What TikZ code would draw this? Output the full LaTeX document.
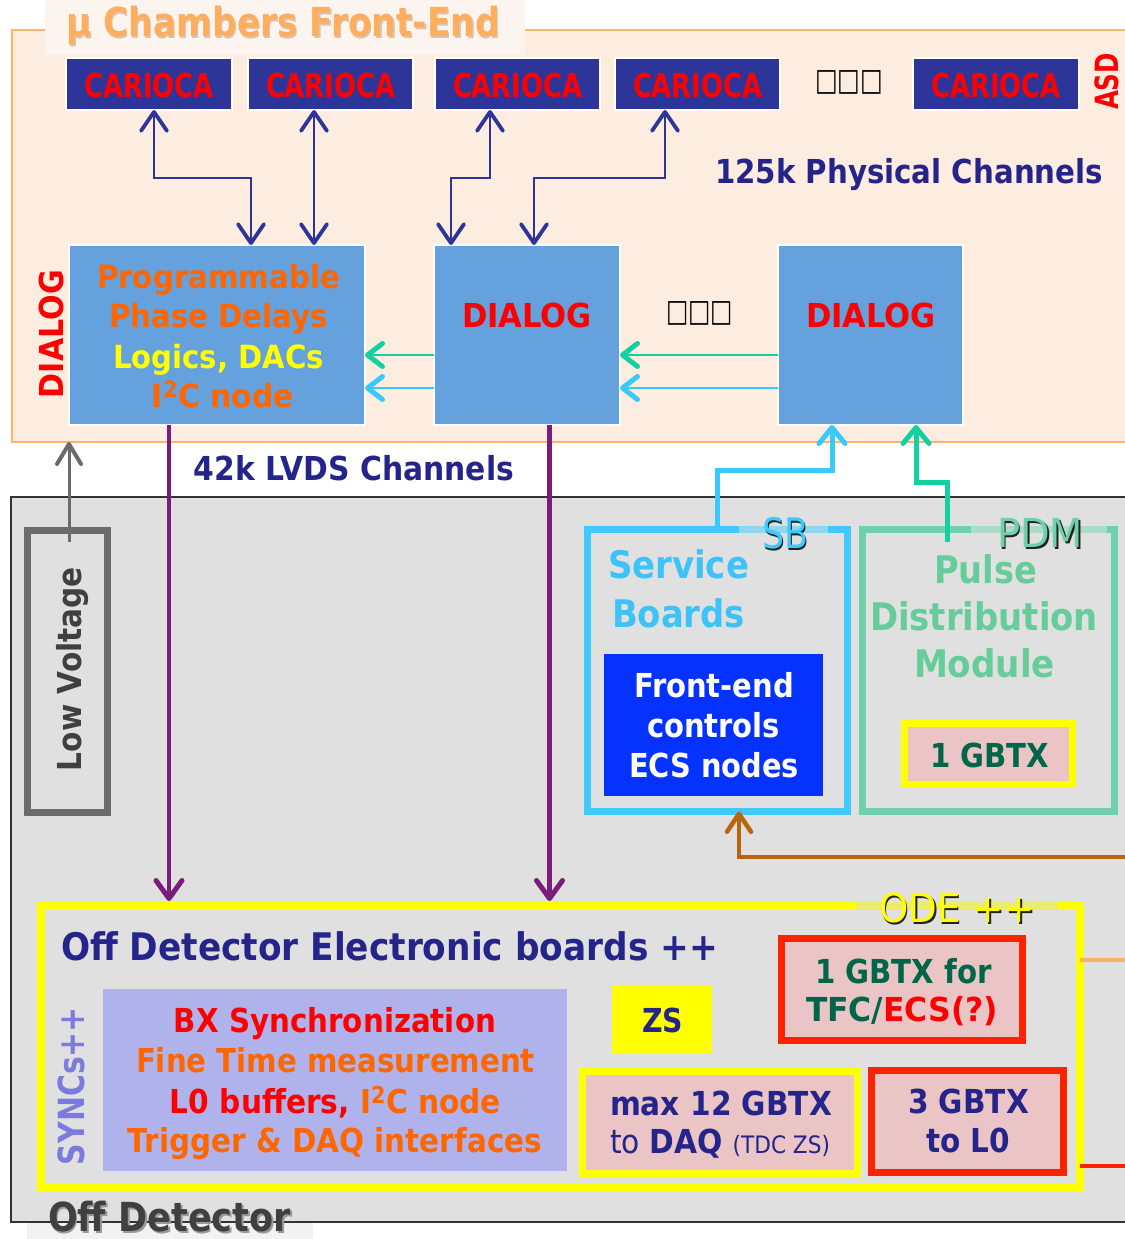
\documentclass[tikz,border=0pt]{standalone}
\usepackage{fontspec}
\setmainfont{DejaVu Sans}
\usepackage{graphicx}
\usetikzlibrary{arrows.meta}

\definecolor{peach}{HTML}{FDEDE1}
\definecolor{peachline}{HTML}{FFB46B}
\definecolor{titlebg}{HTML}{FCF4EE}
\definecolor{titleorange}{HTML}{FFAE5E}
\definecolor{titleshade}{HTML}{D8C4B4}
\definecolor{carfill}{HTML}{2E3599}
\definecolor{navytext}{HTML}{24248A}
\definecolor{hotred}{HTML}{FF0000}
\definecolor{hotorange}{HTML}{FF6600}
\definecolor{brightyellow}{HTML}{FFFF00}
\definecolor{dialogfill}{HTML}{65A1DC}
\definecolor{linkgreen}{HTML}{14CFA0}
\definecolor{linkcyan}{HTML}{38C9FF}
\definecolor{lvdspurple}{HTML}{7B1B7B}
\definecolor{offgrey}{HTML}{E0E0E0}
\definecolor{offline}{HTML}{333333}
\definecolor{lvgrey}{HTML}{6B6B6B}
\definecolor{lvtext}{HTML}{404040}
\definecolor{sbcyan}{HTML}{40C8FF}
\definecolor{sbtext}{HTML}{3DC3F7}
\definecolor{sblight}{HTML}{92D5EF}
\definecolor{pdmline}{HTML}{70D0AC}
\definecolor{pdmtext}{HTML}{66CC9A}
\definecolor{pdmlight}{HTML}{A9DDC7}
\definecolor{fecblue}{HTML}{0532FF}
\definecolor{gbpink}{HTML}{EBC5C5}
\definecolor{dkgreen}{HTML}{00664A}
\definecolor{boxred}{HTML}{FF2200}
\definecolor{odelight}{HTML}{ECEC6C}
\definecolor{lavender}{HTML}{B0B3EB}
\definecolor{syncsblue}{HTML}{7B7BDF}
\definecolor{ecsbrown}{HTML}{B8650F}
\definecolor{tfcorange}{HTML}{FFB266}
\definecolor{odbg}{HTML}{F2F2F2}
\definecolor{shadowdark}{HTML}{222222}
\definecolor{shadowgrey}{HTML}{9A9A9A}

% set a text line to an exact width, keeping its height
\newcommand\fw[2]{\resizebox{#1pt}{\height}{#2}}
% text with a drop shadow: #1 shadow colour, #2 offset, #3 text
\newcommand\shadowed[3]{\makebox[0pt][l]{\kern#2\raisebox{-#2}{\textcolor{#1}{#3}}}#3}

\begin{document}
\begin{tikzpicture}[x=1pt,y=-1pt,
  every node/.style={inner sep=0pt,outer sep=0pt},
  fb/.style={font=\fontsize{#1}{#1}\selectfont\bfseries},
  fr/.style={font=\fontsize{#1}{#1}\selectfont},
  lbl/.style={anchor=base},
  carbox/.style={rectangle,fill=carfill,draw=white,line width=1.5pt,minimum height=52pt},
  dlgbox/.style={rectangle,fill=dialogfill,draw=white,line width=1.5pt,minimum height=180pt},
  pinkbox/.style={rectangle,fill=gbpink,line width=7pt},
  navarr/.style={draw=carfill,line width=2pt,>={Straight Barb[length=19pt,width=26pt,line width=1.8pt 1,round]}},
  hlink/.style={line width=2.5pt,>={Straight Barb[length=15pt,width=23pt,line width=2.5pt 1,round]}},
  lvdsarr/.style={draw=lvdspurple,line width=4.5pt,>={Straight Barb[length=18pt,width=26pt,line width=0.5pt 1,round]}},
  uplink/.style={line width=5pt,>={Straight Barb[length=16pt,width=26pt,line width=0pt 1,round]}},
  ecsarr/.style={draw=ecsbrown,line width=3.5pt,>={Straight Barb[length=18pt,width=24pt,line width=1pt 1,round]}},
  lvarr/.style={draw=lvgrey,line width=3pt,>={Straight Barb[length=20pt,width=24pt,line width=1pt 1,round]}}
]
\useasboundingbox (0,0) rectangle (1124,1239);

% ---------------- front-end area ----------------
\node[rectangle,draw=peachline,fill=peach,line width=1.5pt,minimum width=1128pt,minimum height=412pt] (fe) at (576,236) {};
\fill[titlebg] (45,0) rectangle (525,55);
\node[lbl,fb=40,text=titleorange] (ttl) at (283,37) {\fw{434}{\shadowed{titleshade}{1.5pt}{μ Chambers Front-End}}};

% ---------------- off-detector area ----------------
\node[rectangle,draw=offline,fill=offgrey,line width=1.5pt,minimum width=1129pt,minimum height=725pt] (od) at (575.5,859.5) {};
\fill[odbg] (27,1223) rectangle (313,1239);
\node[lbl,fb=40,text=lvtext] (odl) at (169.5,1231) {\fw{243}{\shadowed{shadowgrey}{2pt}{Off Detector}}};

% ---------------- ASD chips ----------------
\node[carbox,minimum width=166pt] (car1) at (149,84) {};
\node[carbox,minimum width=165pt] (car2) at (330.5,84) {};
\node[carbox,minimum width=165pt] (car3) at (517.5,84) {};
\node[carbox,minimum width=165pt] (car4) at (697.5,84) {};
\node[carbox,minimum width=166pt] (car5) at (996,84) {};
\node[lbl,fb=33,text=hotred] (car1t) at (149,97) {\fw{129}{CARIOCA}};
\node[lbl,fb=33,text=hotred] (car2t) at (330.5,97) {\fw{129}{CARIOCA}};
\node[lbl,fb=33,text=hotred] (car3t) at (517.5,97) {\fw{129}{CARIOCA}};
\node[lbl,fb=33,text=hotred] (car4t) at (697.5,97) {\fw{129}{CARIOCA}};
\node[lbl,fb=33,text=hotred] (car5t) at (996,97) {\fw{129}{CARIOCA}};
\node[fb=31,text=black] (dots1) at (849,82) {\fw{68}{□□□}};
\node[lbl,fb=32,text=hotred,rotate=90] (asd) at (1118,81.5) {\fw{57}{ASD}};
\node[lbl,fb=33,text=navytext] (phys) at (909,183) {\fw{388}{125k Physical Channels}};

% ---------------- DIALOG chips ----------------
\node[dlgbox,minimum width=296pt] (dA) at (217,335) {};
\node[dlgbox,minimum width=186pt] (dB) at (527,335) {};
\node[dlgbox,minimum width=185pt] (dC) at (870.5,335) {};
\node[lbl,fb=32,text=hotorange] (dA1) at (218.5,288) {\fw{243}{Programmable}};
\node[lbl,fb=32,text=hotorange] (dA2) at (218.5,327) {\fw{219}{Phase Delays}};
\node[lbl,fb=32,text=brightyellow] (dA3) at (218.5,368) {\fw{211}{Logics, DACs}};
\node[lbl,fb=32,text=hotorange] (dA4) at (223,407) {\fw{142}{I\textsuperscript{2}C node}};
\node[lbl,fb=33,text=hotred] (dBt) at (527,327) {\fw{130}{DIALOG}};
\node[lbl,fb=33,text=hotred] (dCt) at (871,327) {\fw{130}{DIALOG}};
\node[fb=31,text=black] (dots2) at (699.5,313.5) {\fw{67}{□□□}};
\node[lbl,fb=33,text=hotred,rotate=90] (dlg) at (63,334) {\fw{128}{DIALOG}};
\node[lbl,fb=33,text=navytext] (lvds) at (354,480) {\fw{320}{42k LVDS Channels}};

% ASD <-> DIALOG links
\draw[navarr,<->] ([xshift=5pt]car1.south) -- ++(0,68) -| ([xshift=34pt]dA.north);
\draw[navarr,<->] ([xshift=-16.5pt]car2.south) -- ([xshift=97pt]dA.north);
\draw[navarr,<->] ([xshift=-27.5pt]car3.south) -- ++(0,68) -| ([xshift=-76pt]dB.north);
\draw[navarr,<->] ([xshift=-32.5pt]car4.south) -- ++(0,68) -| ([xshift=7pt]dB.north);

% DIALOG chain
\draw[hlink,draw=linkgreen,->] ([yshift=-20pt]dB.west) -- ([yshift=-20pt]dA.east);
\draw[hlink,draw=linkcyan,->] ([yshift=-53pt]dB.west) -- ([yshift=-53pt]dA.east);
\draw[hlink,draw=linkgreen,->] ([yshift=-20pt]dC.west) -- ([yshift=-20pt]dB.east);
\draw[hlink,draw=linkcyan,->] ([yshift=-53pt]dC.west) -- ([yshift=-53pt]dB.east);

% ---------------- low voltage ----------------
\node[rectangle,draw=lvgrey,line width=7pt,minimum width=80pt,minimum height=282pt] (lv) at (67,671) {};
\node[lbl,fb=33,text=lvtext,rotate=90] (lvt) at (81,669) {\fw{204}{Low Voltage}};
\draw[lvarr,->] ([xshift=2pt,yshift=-12pt]lv.north) -- ([xshift=2pt]lv.north |- fe.south);

% ---------------- service boards ----------------
\node[rectangle,draw=sbcyan,line width=7pt,minimum width=260pt,minimum height=282pt] (sb) at (717.5,670.5) {};
\fill[sblight] (739,526) rectangle (828,533);
\node[lbl,fr=42,text=sbcyan] (sbl) at (785,548) {\fw{46}{\shadowed{shadowdark}{2pt}{SB}}};
\node[lbl,fb=38,text=sbtext] (sv1) at (678.5,578) {\fw{141}{Service}};
\node[lbl,fb=38,text=sbtext] (sv2) at (678.5,627) {\fw{133}{Boards}};
\node[rectangle,fill=fecblue,minimum width=219pt,minimum height=142pt] (fec) at (713.5,725) {};
\node[lbl,fb=33,text=white] (fe1) at (714,697) {\fw{160}{Front-end}};
\node[lbl,fb=33,text=white] (fe2) at (713.5,737) {\fw{133}{controls}};
\node[lbl,fb=33,text=white] (fe3) at (714,777) {\fw{170}{ECS nodes}};

% ---------------- pulse distribution module ----------------
\node[rectangle,draw=pdmline,line width=7pt,minimum width=252pt,minimum height=282pt] (pdm) at (988.5,670.5) {};
\fill[pdmlight] (971,526) rectangle (1107,533);
\node[lbl,fr=40,text=pdmline] (pdml) at (1040,547) {\fw{86}{\shadowed{shadowdark}{2pt}{PDM}}};
\node[lbl,fb=38,text=pdmtext] (pd1) at (985.5,583) {\fw{103}{Pulse}};
\node[lbl,fb=38,text=pdmtext] (pd2) at (984,630) {\fw{228}{Distribution}};
\node[lbl,fb=38,text=pdmtext] (pd3) at (984.5,677) {\fw{141}{Module}};
\node[pinkbox,draw=brightyellow,minimum width=168pt,minimum height=61pt] (g1) at (988.5,754) {};
\node[lbl,fb=33,text=dkgreen] (g1t) at (989.5,767) {\fw{119}{1 GBTX}};

% links up to the last DIALOG
\draw[uplink,draw=linkcyan,->] ([xshift=-0.5pt]sb.north) -- ++(0,-59) -| ([xshift=-38.5pt]dC.south);
\draw[uplink,draw=linkgreen,->] ([xshift=-41.5pt,yshift=-12.5pt]pdm.north) -- ++(0,-60) -| ([xshift=45.5pt]dC.south);

% ---------------- off detector electronics ----------------
\node[rectangle,draw=brightyellow,line width=8pt,minimum width=1039pt,minimum height=282pt] (ode) at (560.5,1047) {};
\fill[odelight] (856,902) rectangle (1058,910);
\node[lbl,fr=40,text=brightyellow] (odel) at (957,922) {\fw{156}{\shadowed{shadowdark}{2pt}{ODE ++}}};
\node[lbl,fb=38,text=navytext] (odeb) at (389.5,960) {\fw{657}{Off Detector Electronic boards ++}};
\node[lbl,fb=36,text=syncsblue,rotate=90] (syn) at (84,1086) {\fw{158}{SYNCs++}};
\node[rectangle,fill=lavender,minimum width=464pt,minimum height=182pt] (sync) at (335,1080) {};
\node[lbl,fb=33,text=hotred] (s1) at (335,1032) {\fw{322}{BX Synchronization}};
\node[lbl,fb=33,text=hotorange] (s2) at (335.5,1072) {\fw{399}{Fine Time measurement}};
\node[lbl,fb=33] (s3) at (335.5,1113) {\fw{331}{\textcolor{hotred}{L0 buffers,} \textcolor{hotorange}{I\textsuperscript{2}C node}}};
\node[lbl,fb=33,text=hotorange] (s4) at (335,1152) {\fw{414}{Trigger \& DAQ interfaces}};
\node[rectangle,fill=brightyellow,minimum width=100pt,minimum height=68pt] (zs) at (662,1019) {};
\node[lbl,fb=33,text=navytext] (zst) at (662.5,1032) {\fw{41}{ZS}};
\node[pinkbox,draw=boxred,minimum width=241pt,minimum height=102pt] (tfc) at (902,989.5) {};
\node[lbl,fb=33,text=dkgreen] (tf1) at (903.5,983) {\fw{177}{1 GBTX for}};
\node[lbl,fb=33] (tf2) at (902,1021) {\fw{192}{\textcolor{dkgreen}{TFC/}\textcolor{hotred}{ECS(?)}}};
\node[pinkbox,draw=brightyellow,minimum width=275pt,minimum height=102pt] (daq) at (720,1122.5) {};
\node[lbl,fb=33,text=navytext] (dq1) at (721,1115) {\fw{222}{max 12 GBTX}};
\node[lbl,fb=33,text=navytext] (dq2) at (720,1153) {\fw{220}{\mdseries to \bfseries DAQ \mdseries\fontsize{24}{24}\selectfont(TDC ZS)}};
\node[pinkbox,draw=boxred,minimum width=192pt,minimum height=102pt] (l0) at (967.5,1121.5) {};
\node[lbl,fb=33,text=navytext] (l01) at (968.5,1113) {\fw{121}{3 GBTX}};
\node[lbl,fb=33,text=navytext] (l02) at (968,1152) {\fw{84}{to L0}};

% ---------------- LVDS links and ECS / TFC lines ----------------
\draw[lvdsarr,->,shorten >=5pt] ([xshift=-48pt]dA.south) -- ([xshift=-48pt]dA.south |- ode.north);
\draw[lvdsarr,->,shorten >=5pt] ([xshift=22.5pt]dB.south) -- ([xshift=22.5pt]dB.south |- ode.north);
\coordinate (ecsin) at (1130,857);
\draw[ecsarr,->] (ecsin) -| ([xshift=21.5pt]sb.south);
\coordinate (tfcout) at (1130,960);
\coordinate (l0out) at (1130,1166);
\draw[draw=tfcorange,line width=4pt] ([yshift=87pt]ode.east) -- (tfcout);
\draw[draw=boxred,line width=4pt] ([yshift=-119pt]ode.east) -- (l0out);
\end{tikzpicture}
\end{document}
